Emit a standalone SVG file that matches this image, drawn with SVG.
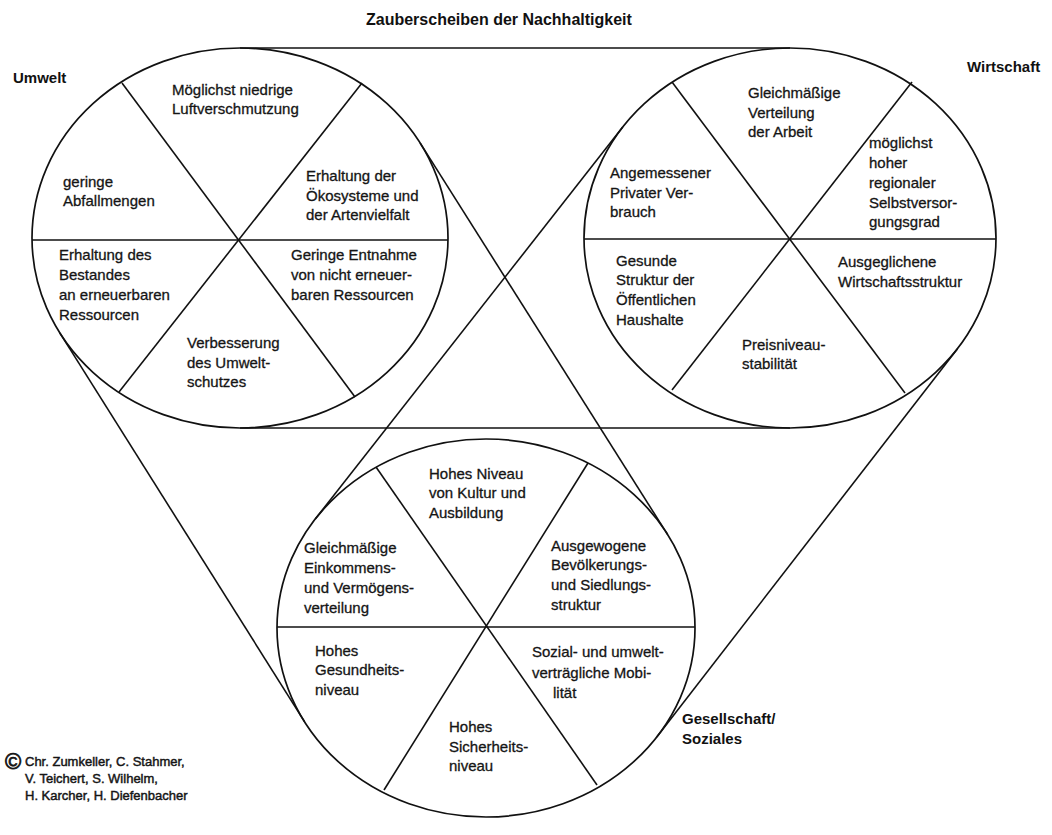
<svg xmlns="http://www.w3.org/2000/svg" width="1052" height="835" viewBox="0 0 1052 835">
<style>
.bg{fill:#ffffff}
.disc{fill:none;stroke:#111;stroke-width:1.7}
.div{stroke:#111;stroke-width:1.6;fill:none}
.con{stroke:#111;stroke-width:1.6;fill:none}
.t{font-family:"Liberation Sans",Arial,Helvetica,sans-serif;font-size:15px;fill:#151515;stroke:#151515;stroke-width:0.3}
.h{font-family:"Liberation Sans",Arial,Helvetica,sans-serif;font-size:15px;font-weight:bold;fill:#111}
.c{font-family:"Liberation Sans",Arial,Helvetica,sans-serif;font-size:13px;fill:#151515;stroke:#151515;stroke-width:0.45}
</style>
<rect class="bg" x="0" y="0" width="1052" height="835"/>
<text id="title" class="h" x="366" y="25" style="font-size:16px">Zauberscheiben der Nachhaltigkeit</text>

<g id="connectors">
<line class="con" x1="240" y1="48" x2="790" y2="48"/>
<line class="con" x1="240" y1="428" x2="790" y2="428"/>
<line class="con" x1="420.2" y1="143.1" x2="667.5" y2="534.4"/>
<line class="con" x1="59.8" y1="332.9" x2="304.5" y2="721.6"/>
<line class="con" x1="622.7" y1="127.1" x2="315.2" y2="519.1"/>
<line class="con" x1="957.3" y1="348.9" x2="656.8" y2="736.9"/>
</g>

<g id="umwelt">
<ellipse class="disc" cx="240" cy="238" rx="208" ry="190"/>
<line class="div" x1="32" y1="240" x2="448" y2="240"/>
<line class="div" x1="122" y1="83" x2="355" y2="397"/>
<line class="div" x1="362" y1="83" x2="119" y2="392"/>
<text class="h" x="13" y="83">Umwelt</text>
<text class="t"><tspan x="172" y="95">Möglichst niedrige</tspan><tspan x="172" y="114">Luftverschmutzung</tspan></text>
<text class="t"><tspan x="63" y="187">geringe</tspan><tspan x="63" y="206">Abfallmengen</tspan></text>
<text class="t"><tspan x="306" y="181">Erhaltung der</tspan><tspan x="306" y="201">Ökosysteme und</tspan><tspan x="306" y="220">der Artenvielfalt</tspan></text>
<text class="t"><tspan x="59" y="260">Erhaltung des</tspan><tspan x="59" y="280">Bestandes</tspan><tspan x="59" y="300">an erneuerbaren</tspan><tspan x="59" y="320">Ressourcen</tspan></text>
<text class="t"><tspan x="291" y="260">Geringe Entnahme</tspan><tspan x="291" y="280">von nicht erneuer-</tspan><tspan x="291" y="300">baren Ressourcen</tspan></text>
<text class="t"><tspan x="187" y="348">Verbesserung</tspan><tspan x="187" y="368">des Umwelt-</tspan><tspan x="187" y="387">schutzes</tspan></text>
</g>

<g id="wirtschaft">
<ellipse class="disc" cx="790" cy="238" rx="206" ry="190"/>
<line class="div" x1="584" y1="239" x2="996" y2="239"/>
<line class="div" x1="672" y1="82" x2="905" y2="393"/>
<line class="div" x1="912" y1="82" x2="672" y2="390"/>
<text class="h" x="967" y="72">Wirtschaft</text>
<text class="t"><tspan x="748" y="98">Gleichmäßige</tspan><tspan x="748" y="118">Verteilung</tspan><tspan x="748" y="137">der Arbeit</tspan></text>
<text class="t"><tspan x="869" y="148">möglichst</tspan><tspan x="869" y="168">hoher</tspan><tspan x="869" y="188">regionaler</tspan><tspan x="869" y="208">Selbstversor-</tspan><tspan x="869" y="227">gungsgrad</tspan></text>
<text class="t"><tspan x="610" y="178">Angemessener</tspan><tspan x="610" y="198">Privater Ver-</tspan><tspan x="610" y="217">brauch</tspan></text>
<text class="t"><tspan x="616" y="266">Gesunde</tspan><tspan x="616" y="285">Struktur der</tspan><tspan x="616" y="305">Öffentlichen</tspan><tspan x="616" y="325">Haushalte</tspan></text>
<text class="t"><tspan x="838" y="267">Ausgeglichene</tspan><tspan x="838" y="287">Wirtschaftsstruktur</tspan></text>
<text class="t"><tspan x="742" y="350">Preisniveau-</tspan><tspan x="742" y="369">stabilität</tspan></text>
</g>

<g id="gesellschaft">
<ellipse class="disc" cx="486" cy="628" rx="209" ry="189"/>
<line class="div" x1="277" y1="627" x2="695" y2="627"/>
<line class="div" x1="376" y1="467" x2="597" y2="785"/>
<line class="div" x1="588" y1="463" x2="384" y2="790"/>
<text class="h"><tspan x="682" y="724">Gesellschaft/</tspan><tspan x="682" y="744">Soziales</tspan></text>
<text class="t"><tspan x="429" y="479">Hohes Niveau</tspan><tspan x="429" y="498">von Kultur und</tspan><tspan x="429" y="518">Ausbildung</tspan></text>
<text class="t"><tspan x="304" y="553">Gleichmäßige</tspan><tspan x="304" y="573">Einkommens-</tspan><tspan x="304" y="593">und Vermögens-</tspan><tspan x="304" y="613">verteilung</tspan></text>
<text class="t"><tspan x="551" y="551">Ausgewogene</tspan><tspan x="551" y="570">Bevölkerungs-</tspan><tspan x="551" y="590">und Siedlungs-</tspan><tspan x="551" y="610">struktur</tspan></text>
<text class="t"><tspan x="315" y="656">Hohes</tspan><tspan x="315" y="675">Gesundheits-</tspan><tspan x="315" y="695">niveau</tspan></text>
<text class="t"><tspan x="532" y="657">Sozial- und umwelt-</tspan><tspan x="532" y="678">verträgliche Mobi-</tspan><tspan x="553" y="698">lität</tspan></text>
<text class="t"><tspan x="449" y="732">Hohes</tspan><tspan x="449" y="752">Sicherheits-</tspan><tspan x="449" y="771">niveau</tspan></text>
</g>

<g id="copyright">
<text class="c"><tspan x="5" y="769" style="font-size:22px;stroke-width:0.8">©</tspan><tspan x="25" y="766">Chr. Zumkeller, C. Stahmer,</tspan><tspan x="25" y="783">V. Teichert, S. Wilhelm,</tspan><tspan x="25" y="800">H. Karcher, H. Diefenbacher</tspan></text>
</g>
</svg>
